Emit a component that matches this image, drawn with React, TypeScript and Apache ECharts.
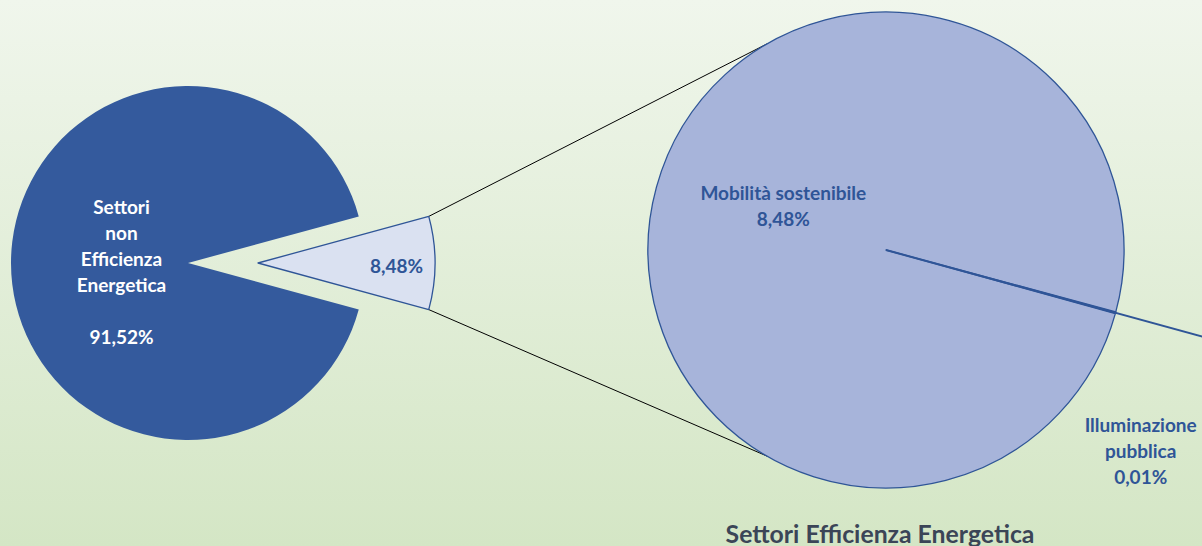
import React, { useEffect, useRef } from "react";
import * as echarts from "echarts";

const mainCategories = ["Settori non Efficienza Energetica", "Settori Efficienza Energetica"];
const mainValues = [91.52, 8.48];
const subCategories = ["Illuminazione pubblica", "Mobilità sostenibile"];
const subValues = [0.01, 8.48];
const chartTitle = "Settori Efficienza Energetica";

const fmt = (v: number) => v.toFixed(2).replace(".", ",") + "%";

const FONT = "Lato";
const BLUE = "#2F5597";

export default function App() {
  const ref = useRef<HTMLDivElement>(null);
  useEffect(() => {
    const chart = echarts.init(ref.current!, null, { renderer: "svg" });
    const c1 = [188, 263];
    const r1 = 177;
    const explode = 70;
    const c2 = [886, 250];
    const r2 = 238;
    const total = mainValues[0] + mainValues[1];
    const half = (mainValues[1] / total) * 180;
    const subTotal = subValues[0] + subValues[1];
    const tinyDir = -15.3;
    const start2 = tinyDir + (subValues[0] / subTotal) * 180;
    const rad = Math.PI / 180;
    const apexX = c1[0] + explode;
    const apexY = c1[1];
    const cornerTop = [apexX + r1 * Math.cos(half * rad), apexY - r1 * Math.sin(half * rad)];
    const cornerBot = [apexX + r1 * Math.cos(half * rad), apexY + r1 * Math.sin(half * rad)];
    const conAng = 120;
    const p2Top = [c2[0] + r2 * Math.cos(conAng * rad), c2[1] - r2 * Math.sin(conAng * rad)];
    const p2Bot = [c2[0] + r2 * Math.cos(conAng * rad), c2[1] + r2 * Math.sin(conAng * rad)];
    const lineLen = 500;
    const lineEnd = [c2[0] + lineLen * Math.cos(tinyDir * rad), c2[1] - lineLen * Math.sin(tinyDir * rad)];

    const lightStyle = { color: "#DAE1F1", borderColor: BLUE, borderWidth: 1.3 };
    const darkStyle = { color: "#345A9D", borderWidth: 0 };
    const subStyle = { color: "#A7B4DA", borderColor: BLUE, borderWidth: 1.3 };

    const labelBase = {
      show: true,
      position: "inside",
      fontFamily: FONT,
      fontWeight: "bold",
      fontSize: 19,
      lineHeight: 26,
      align: "center",
    };

    chart.setOption({
      animation: false,
      backgroundColor: "transparent",
      graphic: [
        { type: "line", z: 0, silent: true, shape: { x1: cornerTop[0], y1: cornerTop[1], x2: p2Top[0], y2: p2Top[1] }, style: { stroke: "#000", lineWidth: 1 } },
        { type: "line", z: 0, silent: true, shape: { x1: cornerBot[0], y1: cornerBot[1], x2: p2Bot[0], y2: p2Bot[1] }, style: { stroke: "#000", lineWidth: 1 } },
        { type: "line", z: 100, silent: true, shape: { x1: c2[0], y1: c2[1], x2: lineEnd[0], y2: lineEnd[1] }, style: { stroke: BLUE, lineWidth: 2 } },
        {
          type: "text",
          z: 100,
          x: 880,
          y: 533,
          style: {
            text: chartTitle,
            fontFamily: FONT,
            fontWeight: "bold",
            fontSize: 24.8,
            fill: "#3B4557",
            align: "center",
            verticalAlign: "middle",
          },
        },
      ],
      series: [
        {
          type: "pie",
          center: c1,
          radius: r1,
          startAngle: half,
          clockwise: true,
          selectedMode: "single",
          selectedOffset: explode,
          avoidLabelOverlap: false,
          silent: true,
          emphasis: { disabled: true },
          labelLine: { show: false },
          labelLayout: (p: any) =>
            p.dataIndex === 0 ? { dx: 47, dy: 2 } : { dx: 25, dy: 8 },
          data: [
            {
              name: mainCategories[1],
              value: mainValues[1],
              selected: true,
              itemStyle: lightStyle,
              select: { itemStyle: lightStyle },
              label: { ...labelBase, color: BLUE, formatter: () => fmt(mainValues[1]) },
            },
            {
              name: mainCategories[0],
              value: mainValues[0],
              itemStyle: darkStyle,
              label: {
                ...labelBase,
                color: "#FFFFFF",
                formatter: () => "Settori\nnon\nEfficienza\nEnergetica\n\n" + fmt(mainValues[0]),
              },
            },
          ],
        },
        {
          type: "pie",
          center: c2,
          radius: r2,
          startAngle: start2,
          clockwise: true,
          avoidLabelOverlap: false,
          silent: true,
          emphasis: { disabled: true },
          labelLine: { show: false },
          labelLayout: (p: any) =>
            p.dataIndex === 0 ? { dx: 137, dy: 168 } : { dx: 15, dy: -12 },
          data: [
            {
              name: subCategories[0],
              value: subValues[0],
              itemStyle: subStyle,
              label: { ...labelBase, color: BLUE, formatter: () => "Illuminazione\npubblica\n" + fmt(subValues[0]) },
            },
            {
              name: subCategories[1],
              value: subValues[1],
              itemStyle: subStyle,
              label: { ...labelBase, color: BLUE, formatter: () => "Mobilità sostenibile\n" + fmt(subValues[1]) },
            },
          ],
        },
      ],
    });
    return () => chart.dispose();
  }, []);
  return (
    <div
      ref={ref}
      style={{
        position: "fixed",
        left: 0,
        top: 0,
        width: 1202,
        height: 546,
        background: "linear-gradient(to bottom, #F0F6EC 0%, #D4E6C5 100%)",
      }}
    />
  );
}
